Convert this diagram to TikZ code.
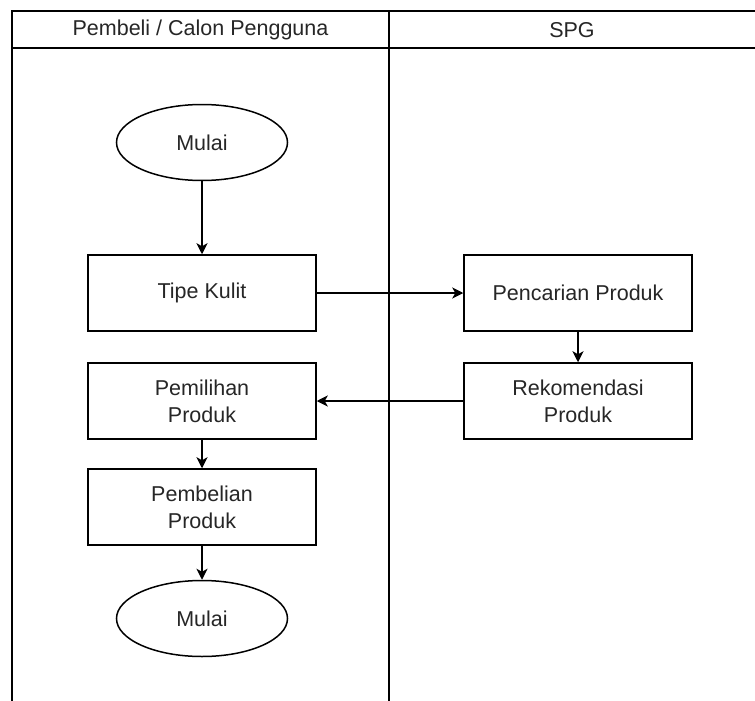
\documentclass[tikz,border=0pt]{standalone}
\usepackage{fontspec}
\setmainfont{Liberation Sans}
\usetikzlibrary{arrows.meta, shapes.geometric}

\tikzset{
  teks/.style={font=\fontsize{21.5}{27}\selectfont, text=black!85},
  kotak/.style={draw, teks, align=center, inner sep=0pt,
    minimum width=228pt, minimum height=76pt},
  terminal/.style={draw, ellipse, teks, inner sep=0pt,
    minimum width=171pt, minimum height=76pt},
  panah/.style={-{Stealth[length=11pt, width=11pt, inset=3pt]}}
}

\begin{document}
\begin{tikzpicture}[x=1pt, y=-1pt, line width=1.5pt]
    \useasboundingbox (0,0) rectangle (755,701);

    % Lajur (swimlane)
    \draw (757,11) -- (12,11) -- (12,701);
    \draw (12,48) -- (757,48);
    \draw (389,11) -- (389,701);
    \node[teks] (lajurA) at (200.5,30) {Pembeli / Calon Pengguna};
    \node[teks] (lajurB) at (572,30) {SPG};

    % Lajur pembeli
    \node[terminal] (mulai) at (202,142.5) {Mulai};
    \node[kotak] (kulit) at (202,293) {Tipe Kulit};
    \node[kotak] (pilih) at (202,401) {Pemilihan\\Produk};
    \node[kotak] (beli) at (202,507) {Pembelian\\Produk};
    \node[terminal] (selesai) at (202,618.5) {Mulai};

    % Lajur SPG
    \node[kotak] (cari) at (578,293) {Pencarian Produk};
    \node[kotak] (rekom) at (578,401) {Rekomendasi\\Produk};

    % Alur
    \draw[panah] (mulai) -- (kulit);
    \draw[panah] (kulit) -- (cari);
    \draw[panah] (cari) -- (rekom);
    \draw[panah] (rekom) -- (pilih);
    \draw[panah] (pilih) -- (beli);
    \draw[panah] (beli) -- (selesai);
\end{tikzpicture}
\end{document}
